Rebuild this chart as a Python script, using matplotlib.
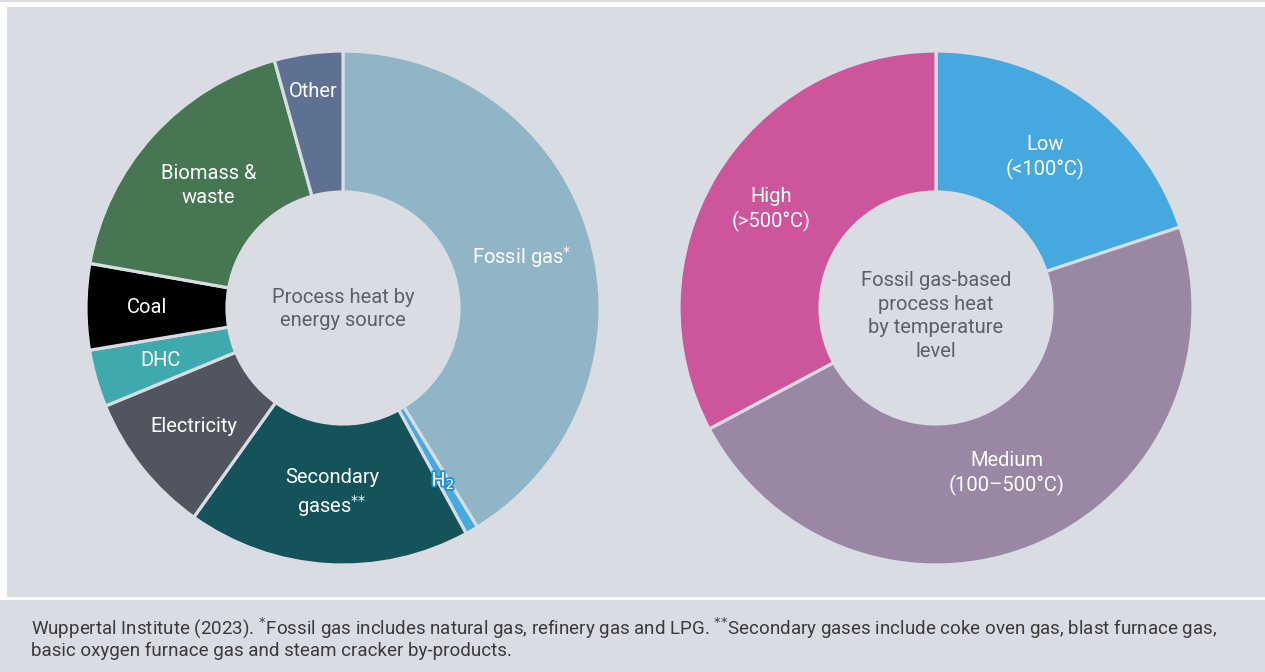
import matplotlib
matplotlib.use("Agg")
import matplotlib.pyplot as plt
import matplotlib.patheffects as pe
import numpy as np
from matplotlib.patches import Rectangle

plt.rcParams["font.family"] = ["Roboto", "DejaVu Sans"]

# left donut: process heat by energy source (%)
source_labels = ["Fossil gas$^{*}$", "H$_2$", "Secondary\ngases$^{{*}{*}}$", "Electricity",
                 "DHC", "Coal", "Biomass &\nwaste", "Other"]
source_shares = [41.2, 0.8, 17.8, 8.9, 3.6, 5.4, 17.9, 4.3]
source_colors = ["#8fb5c6", "#45aadf", "#14535a", "#50555f",
                 "#3faaad", "#000000", "#467752", "#5f7192"]

# right donut: fossil gas-based process heat by temperature level (%)
temp_labels = ["Low\n(<100°C)", "Medium\n(100–500°C)", "High\n(>500°C)"]
temp_shares = [19.9, 47.3, 32.8]
temp_colors = ["#45a9df", "#9987a3", "#cd559b"]

footer = ("Wuppertal Institute (2023). $^{*}$Fossil gas includes natural gas, refinery gas and LPG. "
          "$^{{*}{*}}$Secondary gases include coke oven gas, blast furnace gas,\n"
          "basic oxygen furnace gas and steam cracker by-products.")

BG = "#d9dce3"
W, H = 1265, 672
R_OUT, R_IN = 257, 116


def donut(ax, shares, colors, labels, center, label_r):
    wedges, _ = ax.pie(shares, colors=colors, startangle=90, counterclock=False,
                       radius=R_OUT, center=center,
                       wedgeprops=dict(width=R_OUT - R_IN, edgecolor=BG, linewidth=2.3))
    for w, lab in zip(wedges, labels):
        mid = np.deg2rad((w.theta1 + w.theta2) / 2)
        r = label_r.get(lab, 186)
        x = center[0] + r * np.cos(mid)
        y = center[1] + r * np.sin(mid)
        t = ax.text(x, y, lab, ha="center", va="center", color="white",
                    fontsize=14.5, linespacing=1.3)
        if lab.startswith("H$"):
            t.set_fontsize(14)
            t.set_path_effects([pe.Stroke(linewidth=2.5, foreground="#1a8fc9"), pe.Normal()])
    return wedges


fig = plt.figure(figsize=(W / 100, H / 100), dpi=100, facecolor=BG)
ax = fig.add_axes([0, 0, 1, 1])
ax.set_facecolor(BG)

left_c = (343, H - 308)
right_c = (936, H - 308)
donut(ax, source_shares, source_colors, source_labels, left_c,
      {"Other": 218, "H$_2$": 200, "Biomass &\nwaste": 182, "Coal": 196,
       "DHC": 190, "Electricity": 191})
donut(ax, temp_shares, temp_colors, temp_labels, right_c,
      {"Medium\n(100–500°C)": 180, "High\n(>500°C)": 192})

ax.text(left_c[0], left_c[1] - 1, "Process heat by\nenergy source", ha="center", va="center",
        color="#5d5f64", fontsize=14.5, linespacing=1.3)
ax.text(right_c[0], right_c[1] - 8, "Fossil gas-based\nprocess heat\nby temperature\nlevel",
        ha="center", va="center", color="#5d5f64", fontsize=14.5, linespacing=1.3)

ax.text(31, H - 638, footer, ha="left", va="center", color="#3a3a3a",
        fontsize=13.5, linespacing=1.1)

ax.set_xlim(0, W)
ax.set_ylim(0, H)
ax.axis("off")

# white frame strips of the panel
for x0, y0, w, h in [(0, H - 7, W, 5), (0, H - 597, 7, 590), (0, H - 600, W, 3)]:
    ax.add_patch(Rectangle((x0, y0), w, h, facecolor="white", edgecolor="none", zorder=5))

fig.savefig("out.png", dpi=100, facecolor=BG)
